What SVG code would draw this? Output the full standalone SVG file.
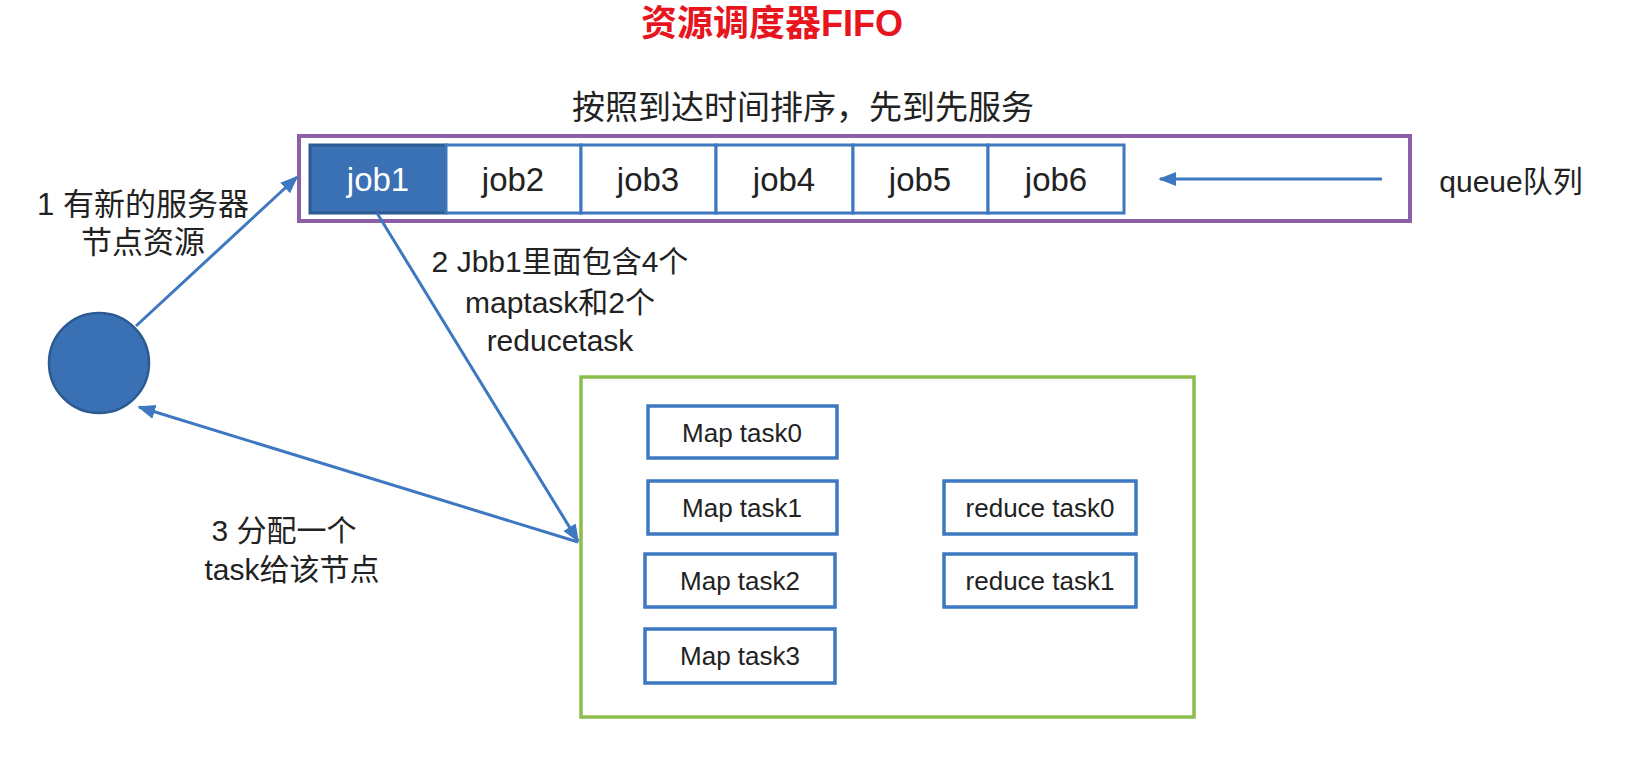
<svg xmlns="http://www.w3.org/2000/svg" width="1635" height="776" viewBox="0 0 1635 776">
<defs>
<style>
.t{font-family:"Liberation Sans","Noto Sans CJK SC",sans-serif;fill:#222;text-anchor:middle}
.cell{fill:#fff;stroke:#3d78c0;stroke-width:3}
.task{fill:#fff;stroke:#3d78c0;stroke-width:3.5}
.conn{stroke:#3d78c0;stroke-width:3;fill:none}
</style>
<marker id="ah" viewBox="0 0 10 10" refX="9" refY="5" markerWidth="6" markerHeight="6" markerUnits="strokeWidth" orient="auto">
<path d="M0,1 L10,5 L0,9 Z" fill="#3d78c0"/>
</marker>
</defs>
<rect width="1635" height="776" fill="#fff"/>
<text class="t" x="772" y="36" font-size="36" font-weight="bold" style="fill:#e8141e">资源调度器FIFO</text>
<text class="t" x="803" y="119" font-size="33">按照到达时间排序，先到先服务</text>
<g id="queue">
<rect x="299" y="136" width="1111" height="85" fill="none" stroke="#8d5fa8" stroke-width="4"/>
</g>
<g id="job1"><rect x="310" y="145" width="136" height="68" fill="#3a70b4" stroke="#2c5a92" stroke-width="3"/><text class="t" x="378" y="191" font-size="33" style="fill:#fff">job1</text></g>
<g id="job2"><rect class="cell" x="446" y="145" width="135" height="68"/><text class="t" x="513" y="191" font-size="33">job2</text></g>
<g id="job3"><rect class="cell" x="581" y="145" width="135" height="68"/><text class="t" x="648" y="191" font-size="33">job3</text></g>
<g id="job4"><rect class="cell" x="716" y="145" width="137" height="68"/><text class="t" x="784" y="191" font-size="33">job4</text></g>
<g id="job5"><rect class="cell" x="853" y="145" width="135" height="68"/><text class="t" x="920" y="191" font-size="33">job5</text></g>
<g id="job6"><rect class="cell" x="988" y="145" width="136" height="68"/><text class="t" x="1056" y="191" font-size="33">job6</text></g>
<text class="t" x="1511" y="192" font-size="30">queue队列</text>
<g id="node"><circle cx="99" cy="363" r="50" fill="#3a70b4" stroke="#2c5a92" stroke-width="2.5"/></g>
<g id="tasks">
<rect x="581" y="377" width="613" height="340" fill="none" stroke="#8cbd4c" stroke-width="3.5"/>
</g>
<g id="map0"><rect class="task" x="648" y="406" width="189" height="52"/><text class="t" x="742" y="442" font-size="26">Map task0</text></g>
<g id="map1"><rect class="task" x="648" y="481" width="189" height="53"/><text class="t" x="742" y="517" font-size="26">Map task1</text></g>
<g id="map2"><rect class="task" x="645" y="554" width="190" height="53"/><text class="t" x="740" y="590" font-size="26">Map task2</text></g>
<g id="map3"><rect class="task" x="645" y="629" width="190" height="54"/><text class="t" x="740" y="665" font-size="26">Map task3</text></g>
<g id="reduce0"><rect class="task" x="944" y="481" width="192" height="53"/><text class="t" x="1040" y="517" font-size="26">reduce task0</text></g>
<g id="reduce1"><rect class="task" x="944" y="554" width="192" height="53"/><text class="t" x="1040" y="590" font-size="26">reduce task1</text></g>
<g id="connectors">
<line class="conn" x1="1382" y1="179" x2="1160" y2="179" marker-end="url(#ah)"/>
<line class="conn" x1="136" y1="326" x2="297" y2="177" marker-end="url(#ah)"/>
<line class="conn" x1="377" y1="213" x2="578" y2="541" marker-end="url(#ah)"/>
<line class="conn" x1="578" y1="542" x2="139" y2="407" marker-end="url(#ah)"/>
</g>
<text class="t" x="143" y="215" font-size="31">1 有新的服务器</text>
<text class="t" x="143" y="253" font-size="31">节点资源</text>
<text class="t" x="560" y="272" font-size="30">2 Jbb1里面包含4个</text>
<text class="t" x="560" y="313" font-size="30">maptask和2个</text>
<text class="t" x="560" y="351" font-size="30">reducetask</text>
<text class="t" x="284" y="541" font-size="30">3 分配一个</text>
<text class="t" x="292" y="580" font-size="30">task给该节点</text>
</svg>
